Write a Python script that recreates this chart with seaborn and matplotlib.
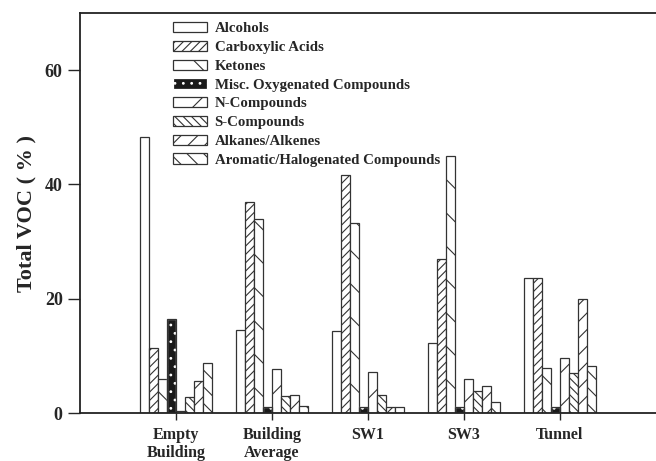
import pandas as pd
import matplotlib.pyplot as plt
import numpy as np
import seaborn as sns
from matplotlib.patches import Rectangle

# sites along the x axis
sites = ["Empty\nBuilding", "Building\nAverage", "SW1", "SW3", "Tunnel"]

# compound classes (legend order)
classes = ["Alcohols", "Carboxylic Acids", "Ketones", "Misc. Oxygenated Compounds",
           "N-Compounds", "S-Compounds", "Alkanes/Alkenes", "Aromatic/Halogenated Compounds"]

# % of total VOC, one list per class, in site order
alcohols = [48.3, 14.5, 14.3, 12.3, 23.6]
carboxylic = [11.3, 36.9, 41.6, 26.9, 23.6]
ketones = [6.0, 33.9, 33.3, 45.0, 7.8]
misc_oxy = [16.5, 1.0, 1.0, 1.0, 1.0]
n_comp = [0.3, 7.7, 7.2, 6.0, 9.6]
s_comp = [2.8, 3.0, 3.1, 3.8, 7.0]
alkanes = [5.6, 3.1, 1.0, 4.7, 20.0]
aromatic = [8.8, 1.3, 1.0, 2.0, 8.2]

values = [alcohols, carboxylic, ketones, misc_oxy, n_comp, s_comp, alkanes, aromatic]
hatches = ["", "////", "\\", "..", "/", "\\\\\\\\", "//", "\\\\"]

rows = []
for cls, vals in zip(classes, values):
    for site, v in zip(sites, vals):
        rows.append({"site": site, "class": cls, "voc": v})
df = pd.DataFrame(rows)

sns.set_style("ticks")
plt.rcParams["font.family"] = ["Liberation Serif", "DejaVu Serif"]
plt.rcParams["font.weight"] = "bold"
plt.rcParams["hatch.linewidth"] = 0.8

fig = plt.figure(figsize=(6.56, 4.61), dpi=100)
ax = fig.add_axes([80 / 656, 1 - 413 / 461, 1 - 80 / 656, 400 / 461])

pal = {c: "white" for c in classes}
pal["Misc. Oxygenated Compounds"] = "#1a1a1a"
sns.barplot(data=df, x="site", y="voc", hue="class", hue_order=classes, order=sites,
            palette=pal, width=0.75, gap=0, saturation=1, edgecolor="#333333",
            linewidth=0.9, legend=False, ax=ax)

for cont, h, cls in zip(ax.containers, hatches, classes):
    for p in cont:
        p.set_hatch(h)
        if cls == "Misc. Oxygenated Compounds":
            # white dots on dark fill, then redraw the outline
            p.set_edgecolor("white")
            ax.add_patch(Rectangle(p.get_xy(), p.get_width(), p.get_height(),
                                   fill=False, ec="#333333", lw=0.9, zorder=p.get_zorder() + 0.1))

ax.set_xlim(-1, 5)
ax.set_ylim(0, 70)
ax.set_yticks([0, 20, 40, 60])
ax.set_xlabel("")
ax.set_ylabel("Total VOC ( % )", fontsize=16, fontweight="bold", labelpad=6)
ax.tick_params(axis="y", direction="out", length=8.5, width=1, labelsize=13, pad=4)
ax.tick_params(axis="x", direction="out", length=5, width=1, labelsize=11.5, pad=5)
for lbl in ax.get_xticklabels():
    lbl.set_fontweight("bold")
    lbl.set_linespacing(1.15)
for lbl in ax.get_yticklabels():
    lbl.set_fontweight("bold")

for side in ["left", "top", "bottom"]:
    ax.spines[side].set_visible(True)
    ax.spines[side].set_linewidth(1.3)
    ax.spines[side].set_color("#222222")
ax.spines["right"].set_visible(False)

leg = ax.legend(ax.containers, classes, loc="upper left",
                bbox_to_anchor=(173 / 656, 1 - 22 / 461), bbox_transform=fig.transFigure,
                frameon=False, fontsize=10.7, handlelength=2.3, handleheight=0.7,
                handletextpad=0.5, labelspacing=0.36, borderpad=0, borderaxespad=0)
for t in leg.get_texts():
    t.set_fontweight("bold")

plt.savefig("out.png", dpi=100)
